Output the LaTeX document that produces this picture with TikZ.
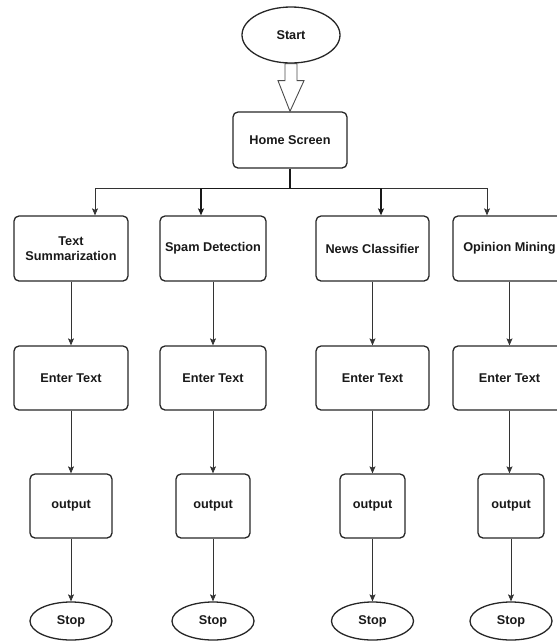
\documentclass[tikz,border=0pt]{standalone}
\usepackage{fontspec}
\setmainfont{Liberation Sans}
\usetikzlibrary{shapes.geometric,arrows.meta,calc}
\begin{document}
\begin{tikzpicture}[x=1pt,y=-1pt,
  every node/.style={font=\fontsize{12.7}{15}\selectfont\bfseries, text=black!90, inner sep=0pt},
  procbox/.style={draw=black!85, line width=1.3pt, rounded corners=5pt, align=center},
  term/.style={draw=black!85, line width=1.3pt, ellipse},
  conn/.style={draw=black!80, line width=0.8pt},
  tip/.style={-{Stealth[length=7pt,width=6pt,inset=1.5pt]}},
  thick conn/.style={draw=black!90, line width=1.3pt}]
\useasboundingbox (0,0) rectangle (557,641);
\begin{scope}
\clip (0,0) rectangle (557,641);
% start and home
\node[term, minimum width=98pt, minimum height=56pt] (start) at (291,35) {Start};
\node[procbox, minimum width=114pt, minimum height=56pt] (home) at (290,140) {Home Screen};
% hollow arrow
\draw[draw=black!70, line width=0.9pt, fill=white]
  ($(start.south)+(-6,0)$) -- ($(start.south)+(6,0)$) -- ($(start.south)+(6,17)$)
  -- ($(start.south)+(13,17)$) -- (home.north) -- ($(start.south)+(-13,17)$)
  -- ($(start.south)+(-6,17)$) -- cycle;
% row 1
\node[procbox, minimum width=114pt, minimum height=65pt] (ts) at (71,248.5) {Text\\Summarization};
\node[procbox, minimum width=106pt, minimum height=65pt] (sd) at (213,248.5) {Spam Detection};
\node[procbox, minimum width=113pt, minimum height=65pt] (nc) at (372.5,248.5) {News Classifier};
\node[procbox, minimum width=113pt, minimum height=65pt] (om) at (509.5,248.5) {Opinion Mining};
% row 2
\node[procbox, minimum width=114pt, minimum height=64pt] (et1) at (71,378) {Enter Text};
\node[procbox, minimum width=106pt, minimum height=64pt] (et2) at (213,378) {Enter Text};
\node[procbox, minimum width=113pt, minimum height=64pt] (et3) at (372.5,378) {Enter Text};
\node[procbox, minimum width=113pt, minimum height=64pt] (et4) at (509.5,378) {Enter Text};
% row 3
\node[procbox, minimum width=82pt, minimum height=64pt] (o1) at (71,506) {output};
\node[procbox, minimum width=74pt, minimum height=64pt] (o2) at (213,506) {output};
\node[procbox, minimum width=65pt, minimum height=64pt] (o3) at (372.5,506) {output};
\node[procbox, minimum width=66pt, minimum height=64pt] (o4) at (511,506) {output};
% stops
\node[term, minimum width=82pt, minimum height=38pt] (s1) at (71,621) {Stop};
\node[term, minimum width=82pt, minimum height=38pt] (s2) at (213,621) {Stop};
\node[term, minimum width=82pt, minimum height=38pt] (s3) at (372.5,621) {Stop};
\node[term, minimum width=82pt, minimum height=38pt] (s4) at (511,621) {Stop};
% branch
\coordinate (bus) at ($(home.south)+(0,20)$);
\draw[conn, tip] (home.south) -- (bus) -| ([xshift=24pt]ts.north);
\draw[conn, tip] (bus) -| ([xshift=-22.5pt]om.north);
\draw[thick conn] (home.south) -- (bus);
\draw[thick conn, tip] (bus) -| ([xshift=-12pt]sd.north);
\draw[thick conn, tip] (bus) -| ([xshift=8.5pt]nc.north);
% columns
\foreach \a/\b in {ts/et1, sd/et2, nc/et3, om/et4, et1/o1, et2/o2, et3/o3, et4/o4}
  \draw[conn, tip] (\a.south) -- (\a.south |- \b.north);
\foreach \a/\b in {o1/s1, o2/s2, o3/s3, o4/s4}
  \draw[conn, tip] (\a.south) -- (\b.north);
\end{scope}
\end{tikzpicture}
\end{document}
